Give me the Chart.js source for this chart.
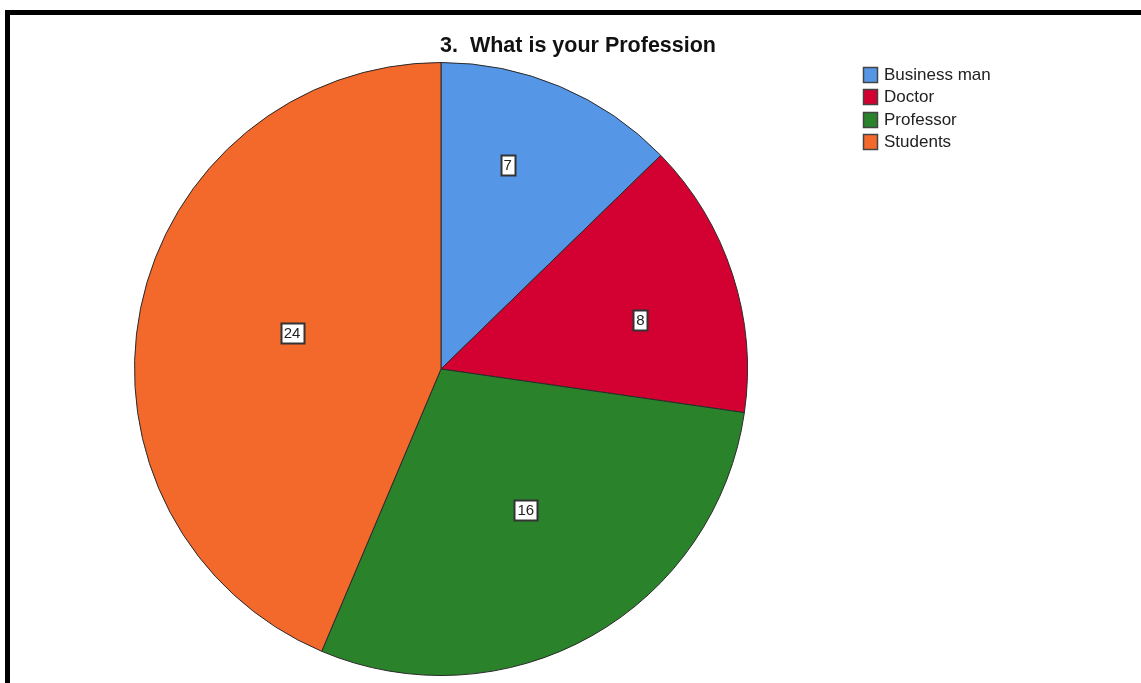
<!DOCTYPE html>
<html>
<head>
<meta charset="utf-8">
<title>What is your Profession</title>
<script src="https://cdn.jsdelivr.net/npm/chart.js@4/dist/chart.umd.min.js"></script>
<style>
    html, body { margin: 0; padding: 0; background: #fff; overflow: hidden; }
    #wrap { position: relative; width: 1141px; height: 683px; }
    #frame {
        position: absolute; left: 5px; top: 10px; right: -10px; bottom: -10px;
        border-left: 5px solid #000; border-top: 5px solid #000;
    }
    canvas { position: absolute; left: 0; top: 0; }
</style>
</head>
<body>
<div id="wrap">
    <div id="frame"></div>
    <canvas id="myChart" width="1141" height="683"></canvas>
</div>
<script>
var title = "3.  What is your Profession";
var labels = ["Business man", "Doctor", "Professor", "Students"];
var counts = [7, 8, 16, 24];
var colors = ["#5596e6", "#d30032", "#2a832a", "#f2692b"];

// where each count box sits: fraction of radius, and nudge off the mid angle (degrees)
var labelDepth = [0.70, 0.67, 0.536, 0.5];
var labelNudge = [-4.8, 4.1, -1.6, 2.1];

var FONT = "'Liberation Sans', Arial, sans-serif";

var decorations = {
    id: 'decorations',
    afterDatasetsDraw: function(chart) {
        var ctx = chart.ctx;
        var arcs = chart.getDatasetMeta(0).data;
        ctx.save();

        // count boxes
        ctx.font = "15px " + FONT;
        ctx.textAlign = "center";
        ctx.textBaseline = "middle";
        arcs.forEach(function(arc, i) {
            var p = arc.getProps(['x', 'y', 'startAngle', 'endAngle', 'outerRadius'], true);
            var mid = (p.startAngle + p.endAngle) / 2 + labelNudge[i] * Math.PI / 180;
            var r = p.outerRadius * labelDepth[i];
            var cx = p.x + Math.cos(mid) * r;
            var cy = p.y + Math.sin(mid) * r;
            var txt = String(chart.data.datasets[0].data[i]);
            var w = Math.round(ctx.measureText(txt).width + 6);
            var h = 20;
            var bx = Math.round(cx - w / 2) + 0.5;
            var by = Math.round(cy - h / 2) + 0.5;
            ctx.fillStyle = "#fff";
            ctx.fillRect(bx, by, w, h);
            ctx.strokeStyle = "#333";
            ctx.lineWidth = 2;
            ctx.strokeRect(bx, by, w, h);
            ctx.fillStyle = "#222";
            ctx.fillText(txt, cx, cy + 1);
        });

        // title
        ctx.font = "bold 21.5px " + FONT;
        ctx.fillStyle = "#111";
        ctx.textAlign = "center";
        ctx.textBaseline = "alphabetic";
        ctx.fillText(title, 578, 52);

        // legend
        ctx.font = "17px " + FONT;
        ctx.textAlign = "left";
        ctx.textBaseline = "middle";
        chart.data.labels.forEach(function(lab, i) {
            var y = 74 + i * 22.5;
            var top = Math.round(y - 7.5) + 0.5;
            ctx.fillStyle = chart.data.datasets[0].backgroundColor[i];
            ctx.fillRect(863.5, top, 14, 15);
            ctx.strokeStyle = "#444";
            ctx.lineWidth = 1.5;
            ctx.strokeRect(863.5, top, 14, 15);
            ctx.fillStyle = "#222";
            ctx.fillText(lab, 884, y + 1);
        });

        ctx.restore();
    }
};

var pie = document.getElementById("myChart").getContext('2d');
var myChart = new Chart(pie, {
    type: 'pie',
    data: {
        labels: labels,
        datasets: [
            {
                data: counts,
                backgroundColor: colors,
                borderColor: '#2a2a2a',
                borderWidth: 1
            }
        ]
    },
    options: {
        responsive: false,
        animation: false,
        layout: {
            padding: { left: 134, right: 393, top: 62, bottom: 7 }
        },
        plugins: {
            legend: { display: false },
            title: { display: false },
            tooltip: { enabled: false }
        }
    },
    plugins: [decorations]
});
</script>
</body>
</html>
